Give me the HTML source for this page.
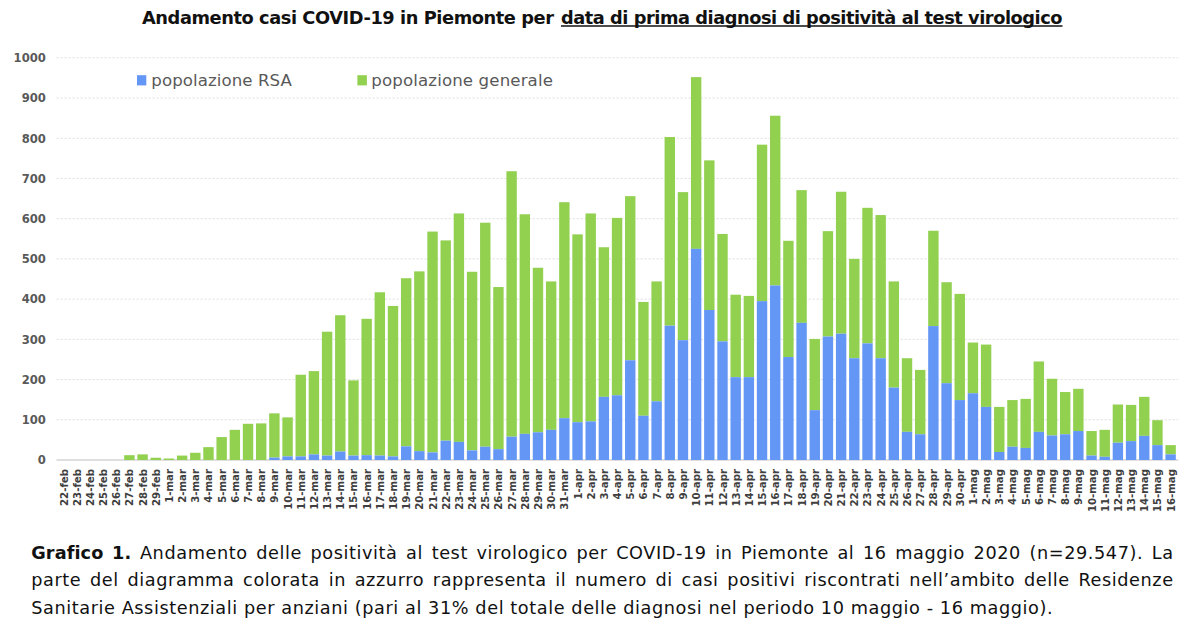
<!DOCTYPE html>
<html><head><meta charset="utf-8">
<style>
html,body{margin:0;padding:0;background:#fff;}
body{width:1200px;height:626px;overflow:hidden;position:relative;font-variant-ligatures:none;font-family:"DejaVu Sans","Liberation Sans",sans-serif;}
svg{position:absolute;left:0;top:0;}
.tt{font-family:"DejaVu Sans","Liberation Sans",sans-serif;font-size:17.8px;font-weight:bold;fill:#111;}
.lg{font-family:"DejaVu Sans","Liberation Sans",sans-serif;font-size:16.6px;fill:#595959;}
.xl{font-family:"DejaVu Sans Condensed","DejaVu Sans","Liberation Sans",sans-serif;font-stretch:condensed;font-size:11.3px;font-weight:bold;fill:#404040;}
.yl{font-family:"DejaVu Sans","Liberation Sans",sans-serif;font-size:11.6px;font-weight:bold;fill:#595959;}
#cap{position:absolute;left:31.2px;top:539.55px;width:1142.5px;font-family:"DejaVu Sans","Liberation Sans",sans-serif;font-size:17.7px;letter-spacing:0.58px;color:#111;line-height:27.7px;}
#cap div{text-align:justify;text-align-last:justify;white-space:nowrap;}
#cap div.last{text-align:left;text-align-last:left;}
#cap b{letter-spacing:0.1px;font-variant-ligatures:none;}
</style></head><body>
<svg width="1200" height="626" viewBox="0 0 1200 626">
<text x="142" y="23.7" class="tt" textLength="412" lengthAdjust="spacing">Andamento casi COVID-19 in Piemonte per</text>
<text x="561" y="23.7" class="tt" textLength="501.5" lengthAdjust="spacing">data di prima diagnosi di positività al test virologico</text>
<line x1="561" y1="25.9" x2="1062.5" y2="25.9" stroke="#111" stroke-width="1.5"/>
<line x1="56.5" y1="419.78" x2="1178.2" y2="419.78" stroke="#e2e2e2" stroke-width="1" stroke-dasharray="2.4 1.6"/>
<line x1="56.5" y1="379.56" x2="1178.2" y2="379.56" stroke="#e2e2e2" stroke-width="1" stroke-dasharray="2.4 1.6"/>
<line x1="56.5" y1="339.34" x2="1178.2" y2="339.34" stroke="#e2e2e2" stroke-width="1" stroke-dasharray="2.4 1.6"/>
<line x1="56.5" y1="299.12" x2="1178.2" y2="299.12" stroke="#e2e2e2" stroke-width="1" stroke-dasharray="2.4 1.6"/>
<line x1="56.5" y1="258.90" x2="1178.2" y2="258.90" stroke="#e2e2e2" stroke-width="1" stroke-dasharray="2.4 1.6"/>
<line x1="56.5" y1="218.68" x2="1178.2" y2="218.68" stroke="#e2e2e2" stroke-width="1" stroke-dasharray="2.4 1.6"/>
<line x1="56.5" y1="178.46" x2="1178.2" y2="178.46" stroke="#e2e2e2" stroke-width="1" stroke-dasharray="2.4 1.6"/>
<line x1="56.5" y1="138.24" x2="1178.2" y2="138.24" stroke="#e2e2e2" stroke-width="1" stroke-dasharray="2.4 1.6"/>
<line x1="56.5" y1="98.02" x2="1178.2" y2="98.02" stroke="#e2e2e2" stroke-width="1" stroke-dasharray="2.4 1.6"/>
<line x1="56.5" y1="57.80" x2="1178.2" y2="57.80" stroke="#e2e2e2" stroke-width="1" stroke-dasharray="2.4 1.6"/>
<line x1="56.5" y1="460.00" x2="1178.2" y2="460.00" stroke="#d4d4d4" stroke-width="1.6"/>
<rect x="137" y="75.2" width="9.3" height="10.2" fill="#6497f5"/>
<text x="151.3" y="86.1" class="lg" textLength="140.5" lengthAdjust="spacing">popolazione RSA</text>
<rect x="357.4" y="75.2" width="9.5" height="10.2" fill="#92d050"/>
<text x="371.3" y="86.1" class="lg" textLength="181.6" lengthAdjust="spacing">popolazione generale</text>
<rect x="124.20" y="455.17" width="10.4" height="4.83" fill="#92d050"/>
<rect x="137.38" y="454.37" width="10.4" height="5.63" fill="#92d050"/>
<rect x="150.56" y="457.75" width="10.4" height="2.25" fill="#92d050"/>
<rect x="163.74" y="458.51" width="10.4" height="1.49" fill="#92d050"/>
<rect x="176.92" y="455.58" width="10.4" height="4.42" fill="#92d050"/>
<rect x="190.10" y="452.76" width="10.4" height="7.24" fill="#92d050"/>
<rect x="203.28" y="447.13" width="10.4" height="12.87" fill="#92d050"/>
<rect x="216.46" y="437.07" width="10.4" height="22.93" fill="#92d050"/>
<rect x="229.64" y="429.83" width="10.4" height="30.16" fill="#92d050"/>
<rect x="242.82" y="423.80" width="10.4" height="36.20" fill="#92d050"/>
<rect x="256.00" y="423.40" width="10.4" height="36.60" fill="#92d050"/>
<rect x="269.18" y="413.34" width="10.4" height="44.24" fill="#92d050"/>
<rect x="269.18" y="457.59" width="10.4" height="2.41" fill="#6497f5"/>
<rect x="282.36" y="417.37" width="10.4" height="39.01" fill="#92d050"/>
<rect x="282.36" y="456.38" width="10.4" height="3.62" fill="#6497f5"/>
<rect x="295.54" y="374.73" width="10.4" height="81.65" fill="#92d050"/>
<rect x="295.54" y="456.38" width="10.4" height="3.62" fill="#6497f5"/>
<rect x="308.72" y="371.11" width="10.4" height="83.26" fill="#92d050"/>
<rect x="308.72" y="454.37" width="10.4" height="5.63" fill="#6497f5"/>
<rect x="321.90" y="331.70" width="10.4" height="123.88" fill="#92d050"/>
<rect x="321.90" y="455.58" width="10.4" height="4.42" fill="#6497f5"/>
<rect x="335.08" y="315.21" width="10.4" height="136.35" fill="#92d050"/>
<rect x="335.08" y="451.55" width="10.4" height="8.45" fill="#6497f5"/>
<rect x="348.26" y="380.36" width="10.4" height="75.21" fill="#92d050"/>
<rect x="348.26" y="455.58" width="10.4" height="4.42" fill="#6497f5"/>
<rect x="361.44" y="318.83" width="10.4" height="136.35" fill="#92d050"/>
<rect x="361.44" y="455.17" width="10.4" height="4.83" fill="#6497f5"/>
<rect x="374.62" y="292.28" width="10.4" height="163.29" fill="#92d050"/>
<rect x="374.62" y="455.58" width="10.4" height="4.42" fill="#6497f5"/>
<rect x="387.80" y="305.96" width="10.4" height="150.42" fill="#92d050"/>
<rect x="387.80" y="456.38" width="10.4" height="3.62" fill="#6497f5"/>
<rect x="400.98" y="278.21" width="10.4" height="168.12" fill="#92d050"/>
<rect x="400.98" y="446.33" width="10.4" height="13.67" fill="#6497f5"/>
<rect x="414.16" y="271.37" width="10.4" height="179.78" fill="#92d050"/>
<rect x="414.16" y="451.15" width="10.4" height="8.85" fill="#6497f5"/>
<rect x="427.34" y="231.55" width="10.4" height="220.81" fill="#92d050"/>
<rect x="427.34" y="452.36" width="10.4" height="7.64" fill="#6497f5"/>
<rect x="440.52" y="240.40" width="10.4" height="200.30" fill="#92d050"/>
<rect x="440.52" y="440.69" width="10.4" height="19.31" fill="#6497f5"/>
<rect x="453.70" y="213.45" width="10.4" height="228.45" fill="#92d050"/>
<rect x="453.70" y="441.90" width="10.4" height="18.10" fill="#6497f5"/>
<rect x="466.88" y="271.77" width="10.4" height="178.58" fill="#92d050"/>
<rect x="466.88" y="450.35" width="10.4" height="9.65" fill="#6497f5"/>
<rect x="480.06" y="222.70" width="10.4" height="224.03" fill="#92d050"/>
<rect x="480.06" y="446.73" width="10.4" height="13.27" fill="#6497f5"/>
<rect x="493.24" y="287.05" width="10.4" height="162.09" fill="#92d050"/>
<rect x="493.24" y="449.14" width="10.4" height="10.86" fill="#6497f5"/>
<rect x="506.42" y="171.22" width="10.4" height="265.45" fill="#92d050"/>
<rect x="506.42" y="436.67" width="10.4" height="23.33" fill="#6497f5"/>
<rect x="519.60" y="214.26" width="10.4" height="219.60" fill="#92d050"/>
<rect x="519.60" y="433.86" width="10.4" height="26.14" fill="#6497f5"/>
<rect x="532.78" y="267.75" width="10.4" height="164.50" fill="#92d050"/>
<rect x="532.78" y="432.25" width="10.4" height="27.75" fill="#6497f5"/>
<rect x="545.96" y="281.42" width="10.4" height="148.41" fill="#92d050"/>
<rect x="545.96" y="429.83" width="10.4" height="30.16" fill="#6497f5"/>
<rect x="559.14" y="202.19" width="10.4" height="215.98" fill="#92d050"/>
<rect x="559.14" y="418.17" width="10.4" height="41.83" fill="#6497f5"/>
<rect x="572.32" y="234.37" width="10.4" height="187.83" fill="#92d050"/>
<rect x="572.32" y="422.19" width="10.4" height="37.81" fill="#6497f5"/>
<rect x="585.50" y="213.45" width="10.4" height="207.94" fill="#92d050"/>
<rect x="585.50" y="421.39" width="10.4" height="38.61" fill="#6497f5"/>
<rect x="598.68" y="247.24" width="10.4" height="149.62" fill="#92d050"/>
<rect x="598.68" y="396.85" width="10.4" height="63.15" fill="#6497f5"/>
<rect x="611.86" y="217.88" width="10.4" height="177.37" fill="#92d050"/>
<rect x="611.86" y="395.25" width="10.4" height="64.75" fill="#6497f5"/>
<rect x="625.04" y="196.16" width="10.4" height="164.10" fill="#92d050"/>
<rect x="625.04" y="360.25" width="10.4" height="99.75" fill="#6497f5"/>
<rect x="638.22" y="301.94" width="10.4" height="113.82" fill="#92d050"/>
<rect x="638.22" y="415.76" width="10.4" height="44.24" fill="#6497f5"/>
<rect x="651.40" y="281.42" width="10.4" height="119.86" fill="#92d050"/>
<rect x="651.40" y="401.28" width="10.4" height="58.72" fill="#6497f5"/>
<rect x="664.58" y="137.03" width="10.4" height="188.63" fill="#92d050"/>
<rect x="664.58" y="325.67" width="10.4" height="134.33" fill="#6497f5"/>
<rect x="677.76" y="192.13" width="10.4" height="148.01" fill="#92d050"/>
<rect x="677.76" y="340.14" width="10.4" height="119.86" fill="#6497f5"/>
<rect x="690.94" y="77.11" width="10.4" height="171.74" fill="#92d050"/>
<rect x="690.94" y="248.84" width="10.4" height="211.16" fill="#6497f5"/>
<rect x="704.12" y="160.36" width="10.4" height="149.62" fill="#92d050"/>
<rect x="704.12" y="309.98" width="10.4" height="150.02" fill="#6497f5"/>
<rect x="717.30" y="233.96" width="10.4" height="107.39" fill="#92d050"/>
<rect x="717.30" y="341.35" width="10.4" height="118.65" fill="#6497f5"/>
<rect x="730.48" y="294.70" width="10.4" height="82.45" fill="#92d050"/>
<rect x="730.48" y="377.15" width="10.4" height="82.85" fill="#6497f5"/>
<rect x="743.66" y="295.90" width="10.4" height="81.24" fill="#92d050"/>
<rect x="743.66" y="377.15" width="10.4" height="82.85" fill="#6497f5"/>
<rect x="756.84" y="144.68" width="10.4" height="156.46" fill="#92d050"/>
<rect x="756.84" y="301.13" width="10.4" height="158.87" fill="#6497f5"/>
<rect x="770.02" y="115.72" width="10.4" height="169.73" fill="#92d050"/>
<rect x="770.02" y="285.45" width="10.4" height="174.55" fill="#6497f5"/>
<rect x="783.20" y="240.80" width="10.4" height="116.24" fill="#92d050"/>
<rect x="783.20" y="357.04" width="10.4" height="102.96" fill="#6497f5"/>
<rect x="796.38" y="190.12" width="10.4" height="132.73" fill="#92d050"/>
<rect x="796.38" y="322.85" width="10.4" height="137.15" fill="#6497f5"/>
<rect x="809.56" y="338.94" width="10.4" height="71.19" fill="#92d050"/>
<rect x="809.56" y="410.13" width="10.4" height="49.87" fill="#6497f5"/>
<rect x="822.74" y="231.15" width="10.4" height="105.38" fill="#92d050"/>
<rect x="822.74" y="336.52" width="10.4" height="123.48" fill="#6497f5"/>
<rect x="835.92" y="191.73" width="10.4" height="141.98" fill="#92d050"/>
<rect x="835.92" y="333.71" width="10.4" height="126.29" fill="#6497f5"/>
<rect x="849.10" y="258.90" width="10.4" height="99.34" fill="#92d050"/>
<rect x="849.10" y="358.24" width="10.4" height="101.76" fill="#6497f5"/>
<rect x="862.28" y="207.82" width="10.4" height="135.54" fill="#92d050"/>
<rect x="862.28" y="343.36" width="10.4" height="116.64" fill="#6497f5"/>
<rect x="875.46" y="215.06" width="10.4" height="143.18" fill="#92d050"/>
<rect x="875.46" y="358.24" width="10.4" height="101.76" fill="#6497f5"/>
<rect x="888.64" y="281.42" width="10.4" height="106.18" fill="#92d050"/>
<rect x="888.64" y="387.60" width="10.4" height="72.40" fill="#6497f5"/>
<rect x="901.82" y="358.24" width="10.4" height="73.60" fill="#92d050"/>
<rect x="901.82" y="431.85" width="10.4" height="28.15" fill="#6497f5"/>
<rect x="915.00" y="369.91" width="10.4" height="64.35" fill="#92d050"/>
<rect x="915.00" y="434.26" width="10.4" height="25.74" fill="#6497f5"/>
<rect x="928.18" y="230.75" width="10.4" height="95.32" fill="#92d050"/>
<rect x="928.18" y="326.07" width="10.4" height="133.93" fill="#6497f5"/>
<rect x="941.36" y="282.23" width="10.4" height="100.95" fill="#92d050"/>
<rect x="941.36" y="383.18" width="10.4" height="76.82" fill="#6497f5"/>
<rect x="954.54" y="293.89" width="10.4" height="106.18" fill="#92d050"/>
<rect x="954.54" y="400.07" width="10.4" height="59.93" fill="#6497f5"/>
<rect x="967.72" y="342.56" width="10.4" height="50.68" fill="#92d050"/>
<rect x="967.72" y="393.23" width="10.4" height="66.77" fill="#6497f5"/>
<rect x="980.90" y="344.57" width="10.4" height="62.34" fill="#92d050"/>
<rect x="980.90" y="406.91" width="10.4" height="53.09" fill="#6497f5"/>
<rect x="994.08" y="406.91" width="10.4" height="45.05" fill="#92d050"/>
<rect x="994.08" y="451.96" width="10.4" height="8.04" fill="#6497f5"/>
<rect x="1007.26" y="400.07" width="10.4" height="46.66" fill="#92d050"/>
<rect x="1007.26" y="446.73" width="10.4" height="13.27" fill="#6497f5"/>
<rect x="1020.44" y="398.87" width="10.4" height="49.07" fill="#92d050"/>
<rect x="1020.44" y="447.93" width="10.4" height="12.07" fill="#6497f5"/>
<rect x="1033.62" y="361.46" width="10.4" height="70.39" fill="#92d050"/>
<rect x="1033.62" y="431.85" width="10.4" height="28.15" fill="#6497f5"/>
<rect x="1046.80" y="378.76" width="10.4" height="56.71" fill="#92d050"/>
<rect x="1046.80" y="435.47" width="10.4" height="24.53" fill="#6497f5"/>
<rect x="1059.98" y="392.03" width="10.4" height="42.23" fill="#92d050"/>
<rect x="1059.98" y="434.26" width="10.4" height="25.74" fill="#6497f5"/>
<rect x="1073.16" y="388.81" width="10.4" height="42.23" fill="#92d050"/>
<rect x="1073.16" y="431.04" width="10.4" height="28.96" fill="#6497f5"/>
<rect x="1086.34" y="431.04" width="10.4" height="24.53" fill="#92d050"/>
<rect x="1086.34" y="455.58" width="10.4" height="4.42" fill="#6497f5"/>
<rect x="1099.52" y="429.83" width="10.4" height="26.95" fill="#92d050"/>
<rect x="1099.52" y="456.78" width="10.4" height="3.22" fill="#6497f5"/>
<rect x="1112.70" y="404.50" width="10.4" height="38.21" fill="#92d050"/>
<rect x="1112.70" y="442.71" width="10.4" height="17.29" fill="#6497f5"/>
<rect x="1125.88" y="404.90" width="10.4" height="36.20" fill="#92d050"/>
<rect x="1125.88" y="441.10" width="10.4" height="18.90" fill="#6497f5"/>
<rect x="1139.06" y="396.85" width="10.4" height="39.01" fill="#92d050"/>
<rect x="1139.06" y="435.87" width="10.4" height="24.13" fill="#6497f5"/>
<rect x="1152.24" y="420.18" width="10.4" height="24.94" fill="#92d050"/>
<rect x="1152.24" y="445.12" width="10.4" height="14.88" fill="#6497f5"/>
<rect x="1165.42" y="445.12" width="10.4" height="9.25" fill="#92d050"/>
<rect x="1165.42" y="454.37" width="10.4" height="5.63" fill="#6497f5"/>
<text transform="translate(67.50,469.0) rotate(-90)" text-anchor="end" class="xl">22-feb</text>
<text transform="translate(80.68,469.0) rotate(-90)" text-anchor="end" class="xl">23-feb</text>
<text transform="translate(93.86,469.0) rotate(-90)" text-anchor="end" class="xl">24-feb</text>
<text transform="translate(107.04,469.0) rotate(-90)" text-anchor="end" class="xl">25-feb</text>
<text transform="translate(120.22,469.0) rotate(-90)" text-anchor="end" class="xl">26-feb</text>
<text transform="translate(133.40,469.0) rotate(-90)" text-anchor="end" class="xl">27-feb</text>
<text transform="translate(146.58,469.0) rotate(-90)" text-anchor="end" class="xl">28-feb</text>
<text transform="translate(159.76,469.0) rotate(-90)" text-anchor="end" class="xl">29-feb</text>
<text transform="translate(172.94,469.0) rotate(-90)" text-anchor="end" class="xl">1-mar</text>
<text transform="translate(186.12,469.0) rotate(-90)" text-anchor="end" class="xl">2-mar</text>
<text transform="translate(199.30,469.0) rotate(-90)" text-anchor="end" class="xl">3-mar</text>
<text transform="translate(212.48,469.0) rotate(-90)" text-anchor="end" class="xl">4-mar</text>
<text transform="translate(225.66,469.0) rotate(-90)" text-anchor="end" class="xl">5-mar</text>
<text transform="translate(238.84,469.0) rotate(-90)" text-anchor="end" class="xl">6-mar</text>
<text transform="translate(252.02,469.0) rotate(-90)" text-anchor="end" class="xl">7-mar</text>
<text transform="translate(265.20,469.0) rotate(-90)" text-anchor="end" class="xl">8-mar</text>
<text transform="translate(278.38,469.0) rotate(-90)" text-anchor="end" class="xl">9-mar</text>
<text transform="translate(291.56,469.0) rotate(-90)" text-anchor="end" class="xl">10-mar</text>
<text transform="translate(304.74,469.0) rotate(-90)" text-anchor="end" class="xl">11-mar</text>
<text transform="translate(317.92,469.0) rotate(-90)" text-anchor="end" class="xl">12-mar</text>
<text transform="translate(331.10,469.0) rotate(-90)" text-anchor="end" class="xl">13-mar</text>
<text transform="translate(344.28,469.0) rotate(-90)" text-anchor="end" class="xl">14-mar</text>
<text transform="translate(357.46,469.0) rotate(-90)" text-anchor="end" class="xl">15-mar</text>
<text transform="translate(370.64,469.0) rotate(-90)" text-anchor="end" class="xl">16-mar</text>
<text transform="translate(383.82,469.0) rotate(-90)" text-anchor="end" class="xl">17-mar</text>
<text transform="translate(397.00,469.0) rotate(-90)" text-anchor="end" class="xl">18-mar</text>
<text transform="translate(410.18,469.0) rotate(-90)" text-anchor="end" class="xl">19-mar</text>
<text transform="translate(423.36,469.0) rotate(-90)" text-anchor="end" class="xl">20-mar</text>
<text transform="translate(436.54,469.0) rotate(-90)" text-anchor="end" class="xl">21-mar</text>
<text transform="translate(449.72,469.0) rotate(-90)" text-anchor="end" class="xl">22-mar</text>
<text transform="translate(462.90,469.0) rotate(-90)" text-anchor="end" class="xl">23-mar</text>
<text transform="translate(476.08,469.0) rotate(-90)" text-anchor="end" class="xl">24-mar</text>
<text transform="translate(489.26,469.0) rotate(-90)" text-anchor="end" class="xl">25-mar</text>
<text transform="translate(502.44,469.0) rotate(-90)" text-anchor="end" class="xl">26-mar</text>
<text transform="translate(515.62,469.0) rotate(-90)" text-anchor="end" class="xl">27-mar</text>
<text transform="translate(528.80,469.0) rotate(-90)" text-anchor="end" class="xl">28-mar</text>
<text transform="translate(541.98,469.0) rotate(-90)" text-anchor="end" class="xl">29-mar</text>
<text transform="translate(555.16,469.0) rotate(-90)" text-anchor="end" class="xl">30-mar</text>
<text transform="translate(568.34,469.0) rotate(-90)" text-anchor="end" class="xl">31-mar</text>
<text transform="translate(581.52,469.0) rotate(-90)" text-anchor="end" class="xl">1-apr</text>
<text transform="translate(594.70,469.0) rotate(-90)" text-anchor="end" class="xl">2-apr</text>
<text transform="translate(607.88,469.0) rotate(-90)" text-anchor="end" class="xl">3-apr</text>
<text transform="translate(621.06,469.0) rotate(-90)" text-anchor="end" class="xl">4-apr</text>
<text transform="translate(634.24,469.0) rotate(-90)" text-anchor="end" class="xl">5-apr</text>
<text transform="translate(647.42,469.0) rotate(-90)" text-anchor="end" class="xl">6-apr</text>
<text transform="translate(660.60,469.0) rotate(-90)" text-anchor="end" class="xl">7-apr</text>
<text transform="translate(673.78,469.0) rotate(-90)" text-anchor="end" class="xl">8-apr</text>
<text transform="translate(686.96,469.0) rotate(-90)" text-anchor="end" class="xl">9-apr</text>
<text transform="translate(700.14,469.0) rotate(-90)" text-anchor="end" class="xl">10-apr</text>
<text transform="translate(713.32,469.0) rotate(-90)" text-anchor="end" class="xl">11-apr</text>
<text transform="translate(726.50,469.0) rotate(-90)" text-anchor="end" class="xl">12-apr</text>
<text transform="translate(739.68,469.0) rotate(-90)" text-anchor="end" class="xl">13-apr</text>
<text transform="translate(752.86,469.0) rotate(-90)" text-anchor="end" class="xl">14-apr</text>
<text transform="translate(766.04,469.0) rotate(-90)" text-anchor="end" class="xl">15-apr</text>
<text transform="translate(779.22,469.0) rotate(-90)" text-anchor="end" class="xl">16-apr</text>
<text transform="translate(792.40,469.0) rotate(-90)" text-anchor="end" class="xl">17-apr</text>
<text transform="translate(805.58,469.0) rotate(-90)" text-anchor="end" class="xl">18-apr</text>
<text transform="translate(818.76,469.0) rotate(-90)" text-anchor="end" class="xl">19-apr</text>
<text transform="translate(831.94,469.0) rotate(-90)" text-anchor="end" class="xl">20-apr</text>
<text transform="translate(845.12,469.0) rotate(-90)" text-anchor="end" class="xl">21-apr</text>
<text transform="translate(858.30,469.0) rotate(-90)" text-anchor="end" class="xl">22-apr</text>
<text transform="translate(871.48,469.0) rotate(-90)" text-anchor="end" class="xl">23-apr</text>
<text transform="translate(884.66,469.0) rotate(-90)" text-anchor="end" class="xl">24-apr</text>
<text transform="translate(897.84,469.0) rotate(-90)" text-anchor="end" class="xl">25-apr</text>
<text transform="translate(911.02,469.0) rotate(-90)" text-anchor="end" class="xl">26-apr</text>
<text transform="translate(924.20,469.0) rotate(-90)" text-anchor="end" class="xl">27-apr</text>
<text transform="translate(937.38,469.0) rotate(-90)" text-anchor="end" class="xl">28-apr</text>
<text transform="translate(950.56,469.0) rotate(-90)" text-anchor="end" class="xl">29-apr</text>
<text transform="translate(963.74,469.0) rotate(-90)" text-anchor="end" class="xl">30-apr</text>
<text transform="translate(976.92,469.0) rotate(-90)" text-anchor="end" class="xl">1-mag</text>
<text transform="translate(990.10,469.0) rotate(-90)" text-anchor="end" class="xl">2-mag</text>
<text transform="translate(1003.28,469.0) rotate(-90)" text-anchor="end" class="xl">3-mag</text>
<text transform="translate(1016.46,469.0) rotate(-90)" text-anchor="end" class="xl">4-mag</text>
<text transform="translate(1029.64,469.0) rotate(-90)" text-anchor="end" class="xl">5-mag</text>
<text transform="translate(1042.82,469.0) rotate(-90)" text-anchor="end" class="xl">6-mag</text>
<text transform="translate(1056.00,469.0) rotate(-90)" text-anchor="end" class="xl">7-mag</text>
<text transform="translate(1069.18,469.0) rotate(-90)" text-anchor="end" class="xl">8-mag</text>
<text transform="translate(1082.36,469.0) rotate(-90)" text-anchor="end" class="xl">9-mag</text>
<text transform="translate(1095.54,469.0) rotate(-90)" text-anchor="end" class="xl">10-mag</text>
<text transform="translate(1108.72,469.0) rotate(-90)" text-anchor="end" class="xl">11-mag</text>
<text transform="translate(1121.90,469.0) rotate(-90)" text-anchor="end" class="xl">12-mag</text>
<text transform="translate(1135.08,469.0) rotate(-90)" text-anchor="end" class="xl">13-mag</text>
<text transform="translate(1148.26,469.0) rotate(-90)" text-anchor="end" class="xl">14-mag</text>
<text transform="translate(1161.44,469.0) rotate(-90)" text-anchor="end" class="xl">15-mag</text>
<text transform="translate(1174.62,469.0) rotate(-90)" text-anchor="end" class="xl">16-mag</text>
<text x="45.9" y="464.30" text-anchor="end" class="yl">0</text>
<text x="45.9" y="424.08" text-anchor="end" class="yl">100</text>
<text x="45.9" y="383.86" text-anchor="end" class="yl">200</text>
<text x="45.9" y="343.64" text-anchor="end" class="yl">300</text>
<text x="45.9" y="303.42" text-anchor="end" class="yl">400</text>
<text x="45.9" y="263.20" text-anchor="end" class="yl">500</text>
<text x="45.9" y="222.98" text-anchor="end" class="yl">600</text>
<text x="45.9" y="182.76" text-anchor="end" class="yl">700</text>
<text x="45.9" y="142.54" text-anchor="end" class="yl">800</text>
<text x="45.9" y="102.32" text-anchor="end" class="yl">900</text>
<text x="45.9" y="62.10" text-anchor="end" class="yl">1000</text>
</svg>
<div id="cap">
<div><b>Grafico 1.</b> Andamento delle positività al test virologico per COVID-19 in Piemonte al 16 maggio 2020 (n=29.547). La</div>
<div>parte del diagramma colorata in azzurro rappresenta il numero di casi positivi riscontrati nell’ambito delle Residenze</div>
<div class="last">Sanitarie Assistenziali per anziani (pari al 31% del totale delle diagnosi nel periodo 10 maggio - 16 maggio).</div>
</div>
</body></html>
